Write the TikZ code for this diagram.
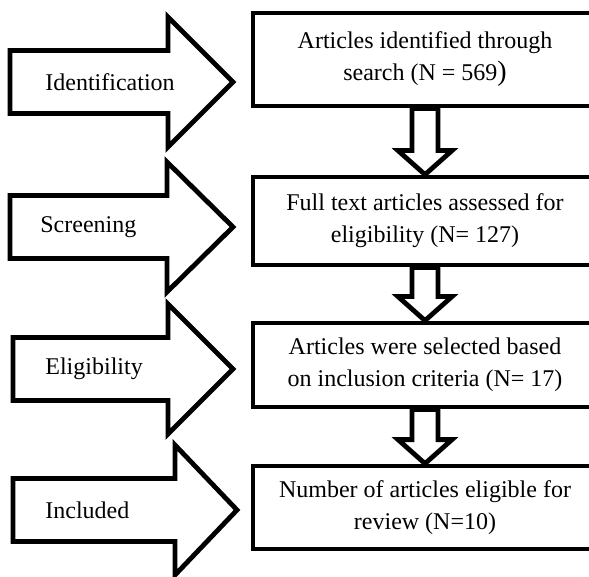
\documentclass[tikz,border=0pt]{standalone}
\usepackage{fontspec}
\setmainfont{Liberation Serif}
\usetikzlibrary{calc}

% hollow arrow from the bottom of one box to the top of the next
\newcommand{\blockdown}[2]{%
	\draw[flowarrow] ($(#1.south)+(-13,0)$) -- ($(#2.north)+(-13,-24)$)
		-- ($(#2.north)+(-27,-24)$) -- (#2.north) -- ($(#2.north)+(27,-24)$)
		-- ($(#2.north)+(13,-24)$) -- ($(#1.south)+(13,0)$) -- cycle;}

% big arrow on the left: tail x, head x, tip x, middle y
\newcommand{\phasearrow}[4]{%
	\draw[flowarrow] (#1,#4-31.5) -- (#2,#4-31.5) -- (#2,#4-65) -- (#3,#4)
		-- (#2,#4+65) -- (#2,#4+31.5) -- (#1,#4+31.5) -- cycle;}

\begin{document}
\begin{tikzpicture}[x = 0.5pt, y = -0.5pt]
	\tikzstyle{flowarrow} = [draw, line width = 2.4pt, line join = miter, fill = white]
	\tikzstyle{stepbox} = [draw, line width = 2.4pt, minimum width = 172pt, inner sep = 2pt,
		align = center, font = \fontsize{12}{16}\selectfont]
	\tikzstyle{phaselabel} = [anchor = west, inner sep = 0pt, font = \fontsize{12}{14}\selectfont]
	\useasboundingbox (0,0) rectangle (589,577);
	\node[stepbox, minimum height = 46.5pt] (b1) at (425,59.5) {Articles identified through\\search (N = 569{\fontsize{14}{16}\selectfont)}};
	\node[stepbox, minimum height = 44pt] (b2) at (425,221) {Full text articles assessed for\\eligibility (N= 127)};
	\node[stepbox, minimum height = 42pt] (b3) at (425,365) {Articles were selected based\\on inclusion criteria (N= 17)};
	\node[stepbox, minimum height = 41.5pt] (b4) at (425,507.5) {Number of articles eligible for\\review (N=10)};
	\blockdown{b1}{b2}
	\blockdown{b2}{b3}
	\blockdown{b3}{b4}
	\phasearrow{10}{168}{233}{82}
	\phasearrow{10}{167}{233}{227}
	\phasearrow{13}{168}{233}{369}
	\phasearrow{13}{175}{237}{510}
	\node[phaselabel] (pid) at (45,82) {Identification};
	\node[phaselabel] (psc) at (40,227) {Screening};
	\node[phaselabel] (pel) at (45,369) {Eligibility};
	\node[phaselabel] (pin) at (45,510) {Included};
\end{tikzpicture}
\end{document}
